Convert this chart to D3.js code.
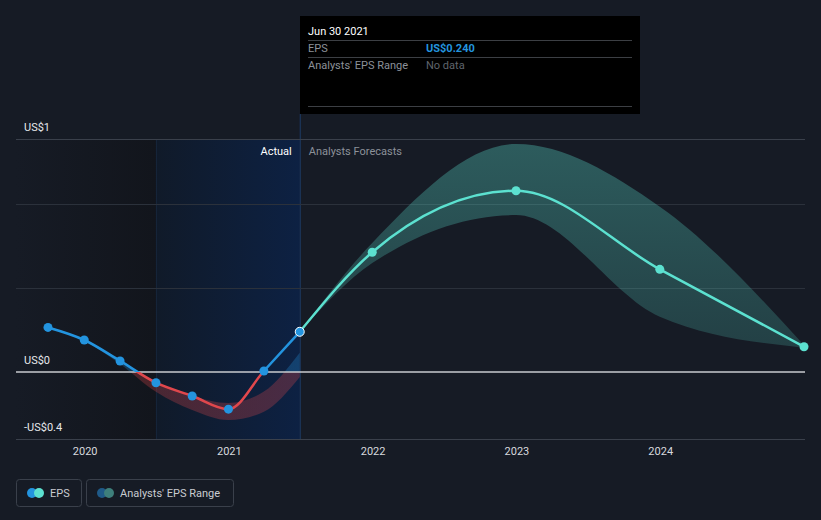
<!DOCTYPE html>
<html>
<head>
<meta charset="utf-8">
<script src="https://cdn.jsdelivr.net/npm/d3@7"></script>
<style>
  html, body { margin: 0; padding: 0; background: #161b25; }
  svg { display: block; font-family: Roboto, "Open Sans", sans-serif; }
</style>
</head>
<body>
<svg id="chart" width="821" height="520"></svg>
<script>
// ---- data ----
const actualDates = ["2019-09-30","2019-12-31","2020-03-31","2020-06-30","2020-09-30","2020-12-31","2021-03-31","2021-06-30"];
const actualEPS   = [0.266, 0.191, 0.066, -0.064, -0.143, -0.222, 0.006, 0.240];

const pastRangeDates = ["2019-12-31","2020-03-31","2020-06-30","2020-09-30","2020-12-31","2021-03-31","2021-06-30"];
const pastRangeHigh  = [0.191, 0.062, -0.064, -0.143, -0.185, -0.117, 0.115];
const pastRangeLow   = [0.191, 0.048, -0.118, -0.227, -0.287, -0.237, -0.030];

const forecastDates = ["2021-06-30","2021-12-31","2022-12-31","2023-12-31","2024-12-31"];
const forecastEPS   = [0.240, 0.715, 1.082, 0.613, 0.151];
const forecastHigh  = [0.240, 0.770, 1.361, 0.987, 0.160];
const forecastLow   = [0.240, 0.650, 0.937, 0.330, 0.145];

const xTickYears = [2020, 2021, 2022, 2023, 2024];
const yDomain = [-0.4, 1.391];
const yTickValues = [yDomain[1], 0, yDomain[0]];
const yTickLabels = ["US$1", "US$0", "-US$0.4"];
const yGridValues = [0.5, 1];

const tooltipDate = "Jun 30 2021";
const tooltipEPS = "US$0.240";
const legendLabels = ["EPS", "Analysts' EPS Range"];

// ---- setup ----
const svg = d3.select("#chart");
const W = 821;
const pL = 16, pR = 805, pT = 139, pB = 439;
const parse = d3.utcParse("%Y-%m-%d");

const x = d3.scaleUtc()
  .domain([parse(actualDates[0]), parse(forecastDates[forecastDates.length-1])])
  .range([48, 804]);
const y = d3.scaleLinear().domain(yDomain).range([pB, pT]);

const blue = "#2394df", red = "#e0474c", teal = "#5ce1d0";
const lastActual = parse(actualDates[actualDates.length-1]);
const yearAgo = parse("2020-06-30");

const defs = svg.append("defs");
const g1 = defs.append("linearGradient").attr("id","leftShade").attr("x1","0").attr("x2","1");
g1.append("stop").attr("offset","0").attr("stop-color","#161b25");
g1.append("stop").attr("offset","1").attr("stop-color","#12151c");
const g2 = defs.append("linearGradient").attr("id","blueShade").attr("x1","0").attr("x2","1");
g2.append("stop").attr("offset","0").attr("stop-color","#101a29");
g2.append("stop").attr("offset","1").attr("stop-color","#0d2143");

const zeroY = y(0);
function signGrad(id, op) {
  const g = defs.append("linearGradient").attr("id", id)
    .attr("gradientUnits","userSpaceOnUse")
    .attr("x1",0).attr("x2",0).attr("y1",pT).attr("y2",pB);
  const off = (zeroY - pT) / (pB - pT);
  g.append("stop").attr("offset",0).attr("stop-color",blue).attr("stop-opacity",op);
  g.append("stop").attr("offset",off).attr("stop-color",blue).attr("stop-opacity",op);
  g.append("stop").attr("offset",off).attr("stop-color",red).attr("stop-opacity",op);
  g.append("stop").attr("offset",1).attr("stop-color",red).attr("stop-opacity",op);
}
signGrad("signLine", 1);
signGrad("signBand", 0.28);

const tg = defs.append("linearGradient").attr("id","tealBand")
  .attr("gradientUnits","userSpaceOnUse")
  .attr("x1",0).attr("x2",0).attr("y1",pT).attr("y2",zeroY);
tg.append("stop").attr("offset",0).attr("stop-color",teal).attr("stop-opacity",0.33);
tg.append("stop").attr("offset",1).attr("stop-color",teal).attr("stop-opacity",0.17);

// ---- backgrounds ----
svg.append("rect").attr("x",0).attr("y",0).attr("width",W).attr("height",520).attr("fill","#161b25");
svg.append("rect").attr("x",pL).attr("y",pT).attr("width",x(yearAgo)-pL).attr("height",pB-pT).attr("fill","url(#leftShade)");
svg.append("rect").attr("x",x(yearAgo)).attr("y",pT).attr("width",x(lastActual)-x(yearAgo)).attr("height",pB-pT).attr("fill","url(#blueShade)");
svg.append("line").attr("x1",x(yearAgo)+0.5).attr("x2",x(yearAgo)+0.5).attr("y1",pT).attr("y2",pB)
  .attr("stroke","#16263b").attr("stroke-width",1);
svg.append("line").attr("x1",x(lastActual)+0.5).attr("x2",x(lastActual)+0.5).attr("y1",114).attr("y2",pB)
  .attr("stroke","#1d3b66").attr("stroke-width",1);

// ---- grid ----
svg.selectAll(".grid").data(yGridValues).enter().append("line")
  .attr("x1",pL).attr("x2",pR)
  .attr("y1",d=>Math.round(y(d))+0.5).attr("y2",d=>Math.round(y(d))+0.5)
  .attr("stroke","#2b313b").attr("stroke-width",1);
svg.append("line").attr("x1",pL).attr("x2",pR).attr("y1",pT+0.5).attr("y2",pT+0.5)
  .attr("stroke","#3a404b").attr("stroke-width",1);
svg.append("line").attr("x1",pL).attr("x2",pR).attr("y1",pB+0.5).attr("y2",pB+0.5)
  .attr("stroke","#3a404b").attr("stroke-width",1);

// ---- y labels ----
svg.selectAll(".ylab").data(yTickValues).enter().append("text")
  .attr("x",24).attr("y",d=>y(d)-8)
  .attr("fill","#e6e8eb").attr("font-size",11)
  .text((d,i)=>yTickLabels[i]);

// ---- x axis ----
const xAxis = d3.axisBottom(x)
  .tickValues(xTickYears.map(yr=>Date.UTC(yr,0,1)))
  .tickFormat(d=>d3.utcFormat("%Y")(d))
  .tickSize(0).tickPadding(8);
const xa = svg.append("g").attr("transform",`translate(0,${pB})`).call(xAxis);
xa.select(".domain").remove();
xa.selectAll("text").attr("fill","#d6d9de").attr("font-size",11).attr("font-family","Roboto, sans-serif");

// ---- bands ----
const area = d3.area().curve(d3.curveMonotoneX)
  .x(d=>x(d.date)).y0(d=>y(d.lo)).y1(d=>y(d.hi));
const pastBand = pastRangeDates.map((d,i)=>({date:parse(d), hi:pastRangeHigh[i], lo:pastRangeLow[i]}));
svg.append("path").datum(pastBand).attr("d",area).attr("fill","url(#signBand)");
const fBand = forecastDates.map((d,i)=>({date:parse(d), hi:forecastHigh[i], lo:forecastLow[i]}));
svg.append("path").datum(fBand).attr("d",area).attr("fill","url(#tealBand)");

svg.append("line").attr("x1",pL).attr("x2",pR).attr("y1",zeroY).attr("y2",zeroY)
  .attr("stroke","#c9cbcf").attr("stroke-width",1.5);

// ---- lines ----
const line = d3.line().curve(d3.curveMonotoneX).x(d=>x(d.date)).y(d=>y(d.v));
const actual = actualDates.map((d,i)=>({date:parse(d), v:actualEPS[i]}));
const forecast = forecastDates.map((d,i)=>({date:parse(d), v:forecastEPS[i]}));

svg.append("path").datum(forecast).attr("d",line).attr("fill","none")
  .attr("stroke",teal).attr("stroke-width",2.5);
svg.append("path").datum(actual).attr("d",line).attr("fill","none")
  .attr("stroke","url(#signLine)").attr("stroke-width",2.5);

svg.selectAll(".fpt").data(forecast.slice(1)).enter().append("circle")
  .attr("cx",d=>x(d.date)).attr("cy",d=>y(d.v)).attr("r",4.5).attr("fill",teal);
svg.selectAll(".apt").data(actual).enter().append("circle")
  .attr("cx",d=>x(d.date)).attr("cy",d=>y(d.v))
  .attr("r",4.5)
  .attr("fill",blue)
  .attr("stroke",(d,i)=>i===actual.length-1?"#ffffff":"none")
  .attr("stroke-width",1);

// ---- annotations ----
svg.append("text").attr("x",x(lastActual)-8).attr("y",155).attr("text-anchor","end")
  .attr("fill","#ffffff").attr("font-size",11).text("Actual");
svg.append("text").attr("x",x(lastActual)+9).attr("y",155)
  .attr("fill","#8c9199").attr("font-size",11).text("Analysts Forecasts");

// ---- tooltip ----
const tt = svg.append("g");
tt.append("rect").attr("x",300).attr("y",16).attr("width",340).attr("height",98).attr("fill","#000000");
tt.append("text").attr("x",308).attr("y",35).attr("fill","#ffffff").attr("font-size",11).text(tooltipDate);
[40.5, 57.5, 106.5].forEach(yy=>{
  tt.append("line").attr("x1",308).attr("x2",632).attr("y1",yy).attr("y2",yy).attr("stroke","#3c3f44").attr("stroke-width",1);
});
tt.append("text").attr("x",308).attr("y",52).attr("fill","#8c9199").attr("font-size",11).text("EPS");
tt.append("text").attr("x",426).attr("y",52).attr("fill",blue).attr("font-size",11).attr("font-weight","bold").text(tooltipEPS);
tt.append("text").attr("x",308).attr("y",69).attr("fill","#8c9199").attr("font-size",11).text("Analysts' EPS Range");
tt.append("text").attr("x",426).attr("y",69).attr("fill","#5f646c").attr("font-size",11).text("No data");

// ---- legend ----
const lg = svg.append("g");
lg.append("rect").attr("x",16.5).attr("y",479.5).attr("width",65).attr("height",27).attr("rx",3)
  .attr("fill","none").attr("stroke","#3a404b");
lg.append("rect").attr("x",86.5).attr("y",479.5).attr("width",147).attr("height",27).attr("rx",3)
  .attr("fill","none").attr("stroke","#3a404b");
lg.append("circle").attr("cx",32).attr("cy",493).attr("r",5).attr("fill",blue);
lg.append("circle").attr("cx",39).attr("cy",493).attr("r",5).attr("fill",teal);
lg.append("circle").attr("cx",102).attr("cy",493).attr("r",5).attr("fill","#1f5a88");
lg.append("circle").attr("cx",109).attr("cy",493).attr("r",5).attr("fill","#3e7f7b");
lg.append("text").attr("x",50).attr("y",497).attr("fill","#c9ccd1").attr("font-size",11).text(legendLabels[0]);
lg.append("text").attr("x",120).attr("y",497).attr("fill","#c9ccd1").attr("font-size",11).text(legendLabels[1]);
</script>
</body>
</html>
